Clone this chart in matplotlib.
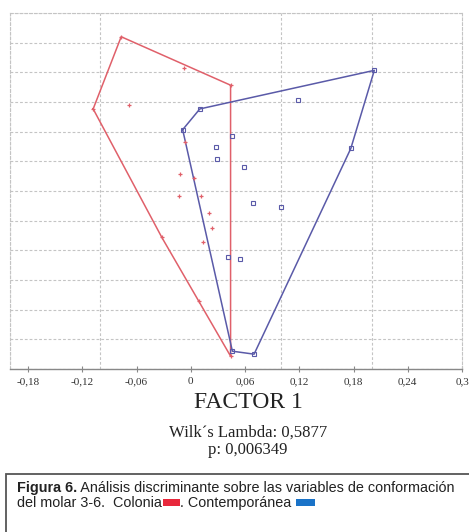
import numpy as np
import matplotlib
matplotlib.use('Agg')
import matplotlib.pyplot as plt
from matplotlib.ticker import MultipleLocator, NullFormatter
from matplotlib.patches import Rectangle

# discriminant scores (factor 1, factor 2)
colonia_x = [-0.077, 0.044, 0.044, -0.108, -0.007, -0.068, -0.006, -0.012,
             0.003, -0.013, 0.011, 0.020, 0.024, 0.014, -0.032, 0.009]
colonia_y = [0.156, 0.107, -0.167, 0.083, 0.124, 0.087, 0.050, 0.017,
             0.013, -0.005, -0.005, -0.022, -0.037, -0.052, -0.047, -0.111]

contemp_x = [-0.009, 0.010, 0.203, 0.177, 0.070, 0.046, 0.119, 0.046,
             0.028, 0.029, 0.059, 0.069, 0.100, 0.041, 0.054]
contemp_y = [0.062, 0.083, 0.122, 0.043, -0.165, -0.162, 0.092, 0.056,
             0.045, 0.032, 0.024, -0.012, -0.016, -0.067, -0.069]

xtick_values = [-0.18, -0.12, -0.06, 0, 0.06, 0.12, 0.18, 0.24, 0.3]
xtick_labels = ['-0,18', '-0,12', '-0,06', '0', '0,06', '0,12', '0,18', '0,24', '0,3']

RED = '#e0606a'
BLUE = '#5a5aa8'
GRID = '#c4c4c4'
DASH = (0, (2.5, 1.8))


def convex_hull(xs, ys):
    """Monotone chain hull, returned closed."""
    pts = sorted(set(zip(xs, ys)))

    def cross(o, a, b):
        return (a[0] - o[0]) * (b[1] - o[1]) - (a[1] - o[1]) * (b[0] - o[0])

    lower = []
    for p in pts:
        while len(lower) >= 2 and cross(lower[-2], lower[-1], p) <= 0:
            lower.pop()
        lower.append(p)
    upper = []
    for p in reversed(pts):
        while len(upper) >= 2 and cross(upper[-2], upper[-1], p) <= 0:
            upper.pop()
        upper.append(p)
    hull = lower[:-1] + upper[:-1]
    hull.append(hull[0])
    return np.array(hull)


W, H = 469, 532
fig = plt.figure(figsize=(W / 100, H / 100), dpi=100)
ax = fig.add_axes([10 / W, 1 - 369 / H, 452 / W, 356 / H])

for xs, ys, color in [(colonia_x, colonia_y, RED), (contemp_x, contemp_y, BLUE)]:
    hull = convex_hull(xs, ys)
    ax.plot(hull[:, 0], hull[:, 1], color=color, lw=1.1, zorder=3)

ax.plot(colonia_x, colonia_y, linestyle='none', marker='+', ms=3.5, mew=0.9,
        color=RED, zorder=4)
ax.plot(contemp_x, contemp_y, linestyle='none', marker='s', ms=3.0, mew=0.8,
        mfc='none', mec=BLUE, zorder=4)

ax.set_xlim(-0.2, 0.3)
ax.set_ylim(-0.18, 0.18)

ax.set_xticks(xtick_values)
ax.set_xticklabels(xtick_labels, family='Liberation Serif', fontsize=8, color='#333333')
ax.xaxis.set_minor_locator(MultipleLocator(0.1))
ax.yaxis.set_major_locator(MultipleLocator(0.03))
ax.yaxis.set_major_formatter(NullFormatter())
ax.tick_params(axis='x', which='major', direction='inout', length=4, width=0.8,
               color='#888888', pad=4)
ax.tick_params(axis='x', which='minor', length=0)
ax.tick_params(axis='y', length=0)

ax.grid(True, axis='x', which='minor', color=GRID, ls=DASH, lw=0.8)
ax.grid(True, axis='y', which='major', color=GRID, ls=DASH, lw=0.8)
ax.grid(False, axis='x', which='major')

for side in ['left', 'top', 'right']:
    ax.spines[side].set_color(GRID)
    ax.spines[side].set_linestyle(DASH)
    ax.spines[side].set_linewidth(0.8)
ax.spines['bottom'].set_color('#888888')
ax.spines['bottom'].set_linewidth(1.0)

# titles below the axis
fig.text(248 / W, 1 - 402 / H, 'FACTOR 1', family='Liberation Serif', fontsize=17,
         ha='center', va='center', color='#222222')
fig.text(248 / W, 1 - 433 / H, 'Wilk\u00b4s Lambda: 0,5877', family='Liberation Serif',
         fontsize=12, ha='center', va='center', color='#222222')
fig.text(248 / W, 1 - 450 / H, 'p: 0,006349', family='Liberation Serif',
         fontsize=12, ha='center', va='center', color='#222222')

# caption box
fig.patches.append(Rectangle((6 / W, -0.05), 1.0, 1 - 474 / H + 0.05,
                             transform=fig.transFigure, fill=False,
                             edgecolor='#555555', lw=1.3))

renderer = fig.canvas.get_renderer()
cap = dict(family='Liberation Sans', fontsize=10.4, va='center', color='#222222')


def put_after(prev, s, **kw):
    bb = prev.get_window_extent(renderer)
    return fig.text(bb.x1 / W, prev.get_position()[1], s, **{**cap, **kw})


t = fig.text(17 / W, 1 - 488 / H, 'Figura 6.', fontweight='bold', **cap)
put_after(t, ' Análisis discriminante sobre las variables de conformación')

t = fig.text(17 / W, 1 - 503 / H, 'del molar 3-6.  Colonia', **cap)
bb = t.get_window_extent(renderer)
sq_w, sq_h = 17, 7
fig.patches.append(Rectangle(((bb.x1 + 1) / W, (H - 506) / H), sq_w / W, sq_h / H,
                             transform=fig.transFigure, color='#e8283c', lw=0))
t2 = fig.text((bb.x1 + sq_w + 1) / W, 1 - 503 / H, '. Contemporánea ', **cap)
bb2 = t2.get_window_extent(renderer)
fig.patches.append(Rectangle(((bb2.x1 + 1) / W, (H - 506) / H), (sq_w + 2) / W, sq_h / H,
                             transform=fig.transFigure, color='#1a73c8', lw=0))

fig.savefig('out.png', dpi=100)
